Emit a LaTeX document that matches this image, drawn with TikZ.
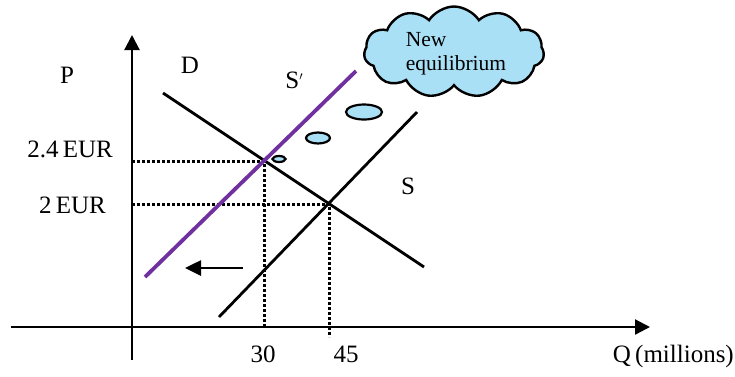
\documentclass[tikz,border=0pt]{standalone}
\usepackage{fontspec}
\setmainfont{Liberation Serif}
\usetikzlibrary{arrows.meta,shapes.symbols,shapes.geometric}
\definecolor{supplypurple}{RGB}{112,48,160}
\definecolor{cloudblue}{RGB}{170,224,246}
\tikzset{
  axis/.style={line width=2.2pt,-{Triangle[length=15pt,width=15pt]}},
  curve/.style={line width=2.8pt},
  shifted/.style={line width=3.8pt,draw=supplypurple},
  guide/.style={line width=3pt,dash pattern=on 3pt off 2pt},
  lbl/.style={font=\fontsize{25}{28}\selectfont,inner sep=0pt},
  bubble/.style={ellipse,draw,line width=2.2pt,fill=cloudblue,inner sep=0pt},
}
\begin{document}
\begin{tikzpicture}[x=1pt,y=-1pt]
\useasboundingbox (0,0) rectangle (735,376);
% axes
\coordinate (yb) at (132,360);
\coordinate (yt) at (132,35);
\coordinate (xl) at (11,327);
\coordinate (xr) at (650,327);
\coordinate (g45) at (329.5,337);
\draw[axis] (yb) -- (yt);
\draw[axis] (xl) -- (xr);
% curves
\coordinate (d1) at (163,93);
\coordinate (d2) at (424,267);
\coordinate (s1) at (219,317);
\coordinate (s2) at (417,112);
\coordinate (p1) at (145,277);
\coordinate (p2) at (356,71);
% equilibrium points (pixel-aligned)
\coordinate (e1) at (264.5,161.5);
\coordinate (e2) at (329.5,204.5);
% guides
\draw[guide] (yb |- e1) -- (e1) -- (e1 |- xl);
\draw[guide] (yb |- e2) -- (e2) -- (g45);
\draw[curve] (d1) -- (d2);
\draw[curve] (s1) -- (s2);
\draw[shifted] (p1) -- (p2);
% shift arrow
\coordinate (a1) at (243,268);
\coordinate (a2) at (185,268);
\draw[line width=2.6pt,-{Triangle[length=16pt,width=15pt]}] (a1) -- (a2);
% labels
\node[lbl] (lP) at (67,75) {P};
\node[lbl] (lD) at (190,65) {D};
\node[lbl] (lSp) at (294,80) {S\raisebox{8pt}{\fontsize{13}{13}\selectfont$\prime$}};
\node[lbl] (lS) at (408,186) {S};
\node[lbl,anchor=east] (l24) at (113,149) {2.4\,EUR};
\node[lbl,anchor=east] (l2) at (106,205) {2\,EUR};
\node[lbl] (l30) at (263,354) {30};
\node[lbl] (l45) at (346,354) {45};
\node[lbl,anchor=east] (lQ) at (734,356) {Q\,(millions)};
% thought bubbles
\node[bubble,minimum width=13,minimum height=6] (b1) at (279,159) {};
\node[bubble,minimum width=24,minimum height=11] (b2) at (318,138) {};
\node[bubble,minimum width=36,minimum height=15] (b3) at (364,112) {};
% cloud
\node[cloud,cloud puffs=11,cloud puff arc=115,cloud ignores aspect,draw,line width=2.4pt,fill=cloudblue,minimum width=180,minimum height=91,inner sep=0pt] (cloud) at (454,52) {};
\node[font=\fontsize{21.5}{24}\selectfont,align=left,inner sep=0pt] (ctext) at (456,54) {New\\equilibrium};
\end{tikzpicture}
\end{document}
